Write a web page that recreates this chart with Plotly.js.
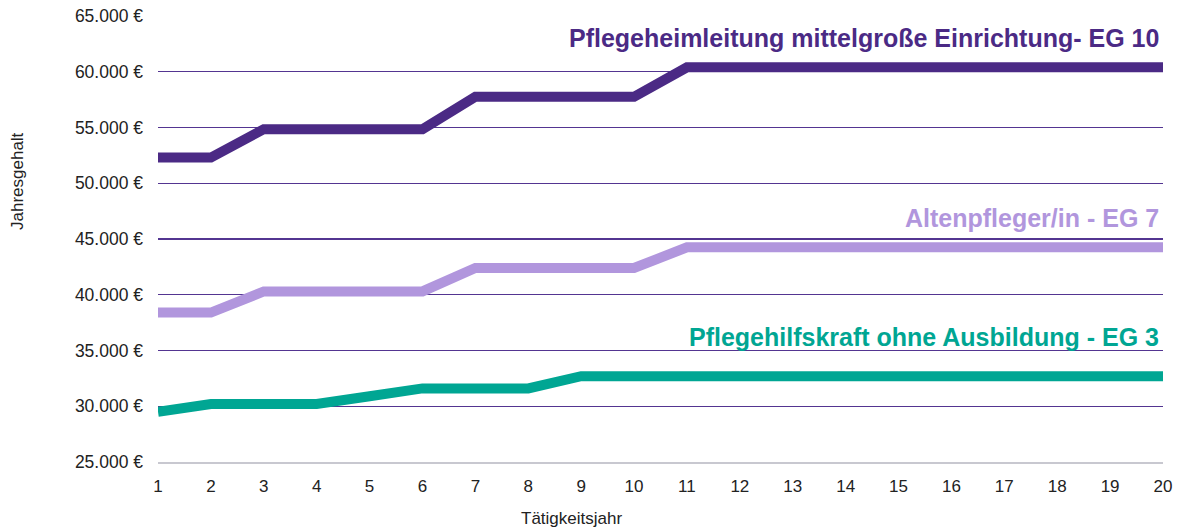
<!DOCTYPE html>
<html>
<head>
<meta charset="utf-8">
<script src="https://cdn.plot.ly/plotly-3.0.1.min.js"></script>
<style>html,body{margin:0;padding:0;background:#fff;}#chart{width:1182px;height:529px;}</style>
</head>
<body>
<div id="chart"></div>
<script>
const years = [1,2,3,4,5,6,7,8,9,10,11,12,13,14,15,16,17,18,19,20];
const eg10 = [52300,52300,54850,54850,54850,54850,57750,57750,57750,57750,60400,60400,60400,60400,60400,60400,60400,60400,60400,60400];
const eg7 = [38400,38400,40300,40300,40300,40300,42400,42400,42400,42400,44250,44250,44250,44250,44250,44250,44250,44250,44250,44250];
const eg3 = [29500,30200,30200,30200,30900,31600,31600,31600,32700,32700,32700,32700,32700,32700,32700,32700,32700,32700,32700,32700];
const seriesNames = ["Pflegeheimleitung mittelgroße Einrichtung- EG 10", "Altenpfleger/in - EG 7", "Pflegehilfskraft ohne Ausbildung - EG 3"];
const yTicks = [25000,30000,35000,40000,45000,50000,55000,60000,65000];
const yTickText = ["25.000 €","30.000 €","35.000 €","40.000 €","45.000 €","50.000 €","55.000 €","60.000 €","65.000 €"];
const colors = ["#4b2a85", "#b196dd", "#00a693"];
const labelY = [63000, 46880, 36250];

const FONT = "Liberation Sans, Arial, sans-serif";
const data = [eg10, eg7, eg3].map((s, i) => ({
  x: years, y: s, type: "scatter", mode: "lines", name: seriesNames[i],
  line: {color: colors[i], width: 10}, hoverinfo: "skip"
}));

const annotations = seriesNames.map((t, i) => ({
  text: "<b>" + t + "</b>", xref: "paper", x: 1, xanchor: "right", xshift: -2,
  yref: "y", y: labelY[i], yanchor: "middle", showarrow: false,
  font: {family: FONT, size: 25, color: colors[i]}
}));
annotations.push({
  text: "Tätigkeitsjahr", xref: "paper", yref: "paper", x: (571-158)/(1163-158), y: -(518-462)/(462-16),
  xanchor: "center", yanchor: "middle", showarrow: false,
  font: {family: FONT, size: 17, color: "#222"}
});
annotations.push({
  text: "Jahresgehalt", xref: "paper", yref: "paper", x: (18-158)/(1163-158), y: (462-181)/(462-16),
  xanchor: "center", yanchor: "middle", showarrow: false, textangle: -90,
  font: {family: FONT, size: 17, color: "#222"}
});

const layout = {
  width: 1182, height: 529,
  margin: {l: 158, r: 19, t: 16, b: 67},
  paper_bgcolor: "#fff", plot_bgcolor: "#fff",
  showlegend: false,
  font: {family: FONT, size: 17, color: "#222"},
  xaxis: {
    range: [1, 20], tickvals: years, ticktext: years.map(String),
    showgrid: false, zeroline: false, showline: true, linecolor: "#c8c8d0", linewidth: 2,
    ticks: "", ticklabelstandoff: 8, tickfont: {family: FONT, size: 17, color: "#222"}
  },
  yaxis: {
    range: [25000, 65000], tickvals: yTicks, ticktext: yTickText,
    showgrid: true, gridcolor: "#533591", gridwidth: 1.4, zeroline: false, showline: false,
    ticks: "", ticklabelstandoff: 14, tickfont: {family: FONT, size: 17.5, color: "#222"}
  },
  annotations: annotations
};

Plotly.newPlot("chart", data, layout, {displayModeBar: false, staticPlot: true});
</script>
</body>
</html>
